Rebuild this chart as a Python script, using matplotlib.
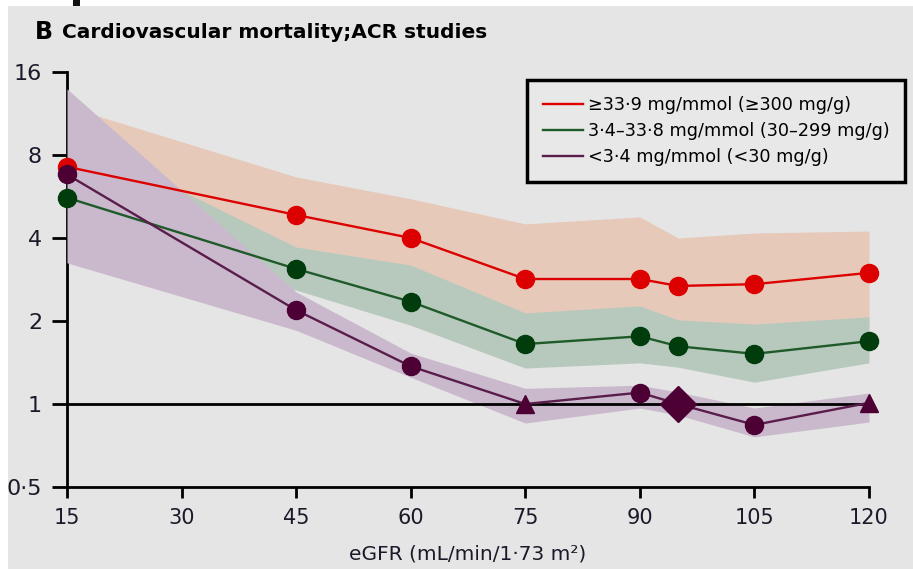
import matplotlib
matplotlib.use("Agg")
import matplotlib.pyplot as plt
from matplotlib.patches import Rectangle
from matplotlib.lines import Line2D

plt.rcParams['font.family'] = ['DejaVu Sans']

# eGFR categories (mL/min/1.73 m2)
egfr = [15, 45, 60, 75, 90, 95, 105, 120]

# Hazard ratios by albuminuria (ACR) category
hr_high = [7.25, 4.85, 4.0, 2.84, 2.84, 2.68, 2.72, 2.99]
hr_high_lo = [4.8, 3.3, 2.8, 2.0, 2.1, 1.9, 1.8, 1.95]
hr_high_hi = [12.0, 6.66, 5.55, 4.5, 4.77, 4.0, 4.17, 4.24]

hr_mid = [5.6, 3.09, 2.35, 1.65, 1.76, 1.62, 1.52, 1.69]
hr_mid_lo = [4.2, 2.59, 1.93, 1.35, 1.41, 1.36, 1.2, 1.41]
hr_mid_hi = [9.5, 3.71, 3.19, 2.14, 2.27, 2.02, 1.95, 2.07]

hr_low = [6.8, 2.19, 1.37, 1.0, 1.1, 1.0, 0.84, 1.01]
hr_low_lo = [3.25, 1.85, 1.25, 0.853, 0.967, 0.912, 0.76, 0.86]
hr_low_hi = [13.9, 2.55, 1.53, 1.14, 1.17, 1.105, 0.967, 1.096]

# Marker per point for the <30 mg/g group (reference at 95, triangles = not significant)
low_markers = ['o', 'o', 'o', '^', 'o', 'D', 'o', '^']

series_labels = ['\u226533\u00b79 mg/mmol (\u2265300 mg/g)',
                 '3\u00b74\u201333\u00b78 mg/mmol (30\u2013299 mg/g)',
                 '<3\u00b74 mg/mmol (<30 mg/g)']

y_ticks = [0.5, 1, 2, 4, 8, 16]
y_ticklabels = ['0\u00b75', '1', '2', '4', '8', '16']
x_ticks = [15, 30, 45, 60, 75, 90, 105, 120]

BG = '#e5e5e5'
TXT = '#1a1a2a'
RED, RED_BAND = '#dd0000', '#e6c9b9'
GREEN, GREEN_BAND = '#003c0c', '#b7c9bc'
PURPLE, PURPLE_BAND = '#4c0034', '#cab9cc'
GREEN_LINE = '#1f5a2a'
PURPLE_LINE = '#5a1d4b'

fig = plt.figure(figsize=(9.13, 5.69), dpi=100, facecolor='white')
fig.patches.append(Rectangle((8 / 913, 0), 1, 1 - 6 / 569, transform=fig.transFigure,
                             facecolor=BG, edgecolor='none', zorder=-10))
fig.patches.append(Rectangle((73 / 913, 1 - 6 / 569), 7 / 913, 6 / 569, transform=fig.transFigure,
                             facecolor='#111111', edgecolor='none', zorder=-10))

ax = fig.add_axes([67 / 913, 82 / 569, 802 / 913, 415 / 569])
ax.set_facecolor('none')
ax.set_yscale('log', base=2)
ax.set_xlim(15, 120)
ax.set_ylim(0.5, 16)

# confidence bands
ax.fill_between(egfr, hr_high_lo, hr_high_hi, color=RED_BAND, lw=0, zorder=1)
ax.fill_between(egfr, hr_mid_lo, hr_mid_hi, color=GREEN_BAND, lw=0, zorder=2)
ax.fill_between(egfr, hr_low_lo, hr_low_hi, color=PURPLE_BAND, lw=0, zorder=3)

# reference line
ax.axhline(1, color='black', lw=2.0, zorder=4)

ms = 13
ax.plot(egfr, hr_high, color=RED, lw=1.7, marker='o', ms=ms, mec=RED, mfc=RED,
        zorder=6, clip_on=False)
ax.plot(egfr, hr_mid, color=GREEN_LINE, lw=1.7, zorder=5, clip_on=False)
ax.plot(egfr, hr_mid, ls='none', marker='o', ms=ms, color=GREEN, zorder=6, clip_on=False)
ax.plot(egfr, hr_low, color=PURPLE_LINE, lw=1.7, zorder=5, clip_on=False)
for x, y, m in zip(egfr, hr_low, low_markers):
    size = {'o': ms, '^': 13, 'D': 18}[m]
    ax.plot([x], [y], ls='none', marker=m, ms=size, color=PURPLE, zorder=7, clip_on=False)

# axes styling
for side in ('top', 'right'):
    ax.spines[side].set_visible(False)
for side in ('left', 'bottom'):
    ax.spines[side].set_linewidth(2.0)
ax.spines['left'].set_bounds(0.5, 16)
ax.spines['bottom'].set_bounds(15, 120)
ax.set_yticks(y_ticks)
ax.set_yticklabels(y_ticklabels)
ax.yaxis.set_minor_locator(matplotlib.ticker.NullLocator())
ax.set_xticks(x_ticks)
ax.tick_params(axis='y', length=11, width=2, pad=7, labelsize=16, labelcolor=TXT)
ax.tick_params(axis='x', length=8, width=2, pad=7, labelsize=15, labelcolor=TXT)
ax.set_xlabel('eGFR (mL/min/1\u00b773 m\u00b2)', fontsize=14.5, color=TXT, labelpad=12)

# panel title
fig.text(35 / 913, 1 - 32 / 569, 'B', fontsize=17, fontweight='bold', va='center', ha='left')
fig.text(62 / 913, 1 - 32 / 569, 'Cardiovascular mortality;ACR studies', fontsize=14.5,
         fontweight='bold', va='center', ha='left')

handles = [Line2D([], [], color=RED, lw=1.7),
           Line2D([], [], color=GREEN_LINE, lw=1.7),
           Line2D([], [], color=PURPLE_LINE, lw=1.7)]
leg = ax.legend(handles, series_labels, loc='upper left',
                bbox_to_anchor=((527 - 67) / 802, (487 - 80) / 415),
                frameon=True, fancybox=False, handlelength=2.3,
                handletextpad=0.25, labelspacing=0.45, borderpad=0.9,
                borderaxespad=0, framealpha=1, prop={'size': 12.7})
leg.get_frame().set_facecolor('#e8e8e8')
leg.get_frame().set_edgecolor('black')
leg.get_frame().set_linewidth(2.5)
leg.set_zorder(10)

fig.savefig('out.png', dpi=100, facecolor='white')
